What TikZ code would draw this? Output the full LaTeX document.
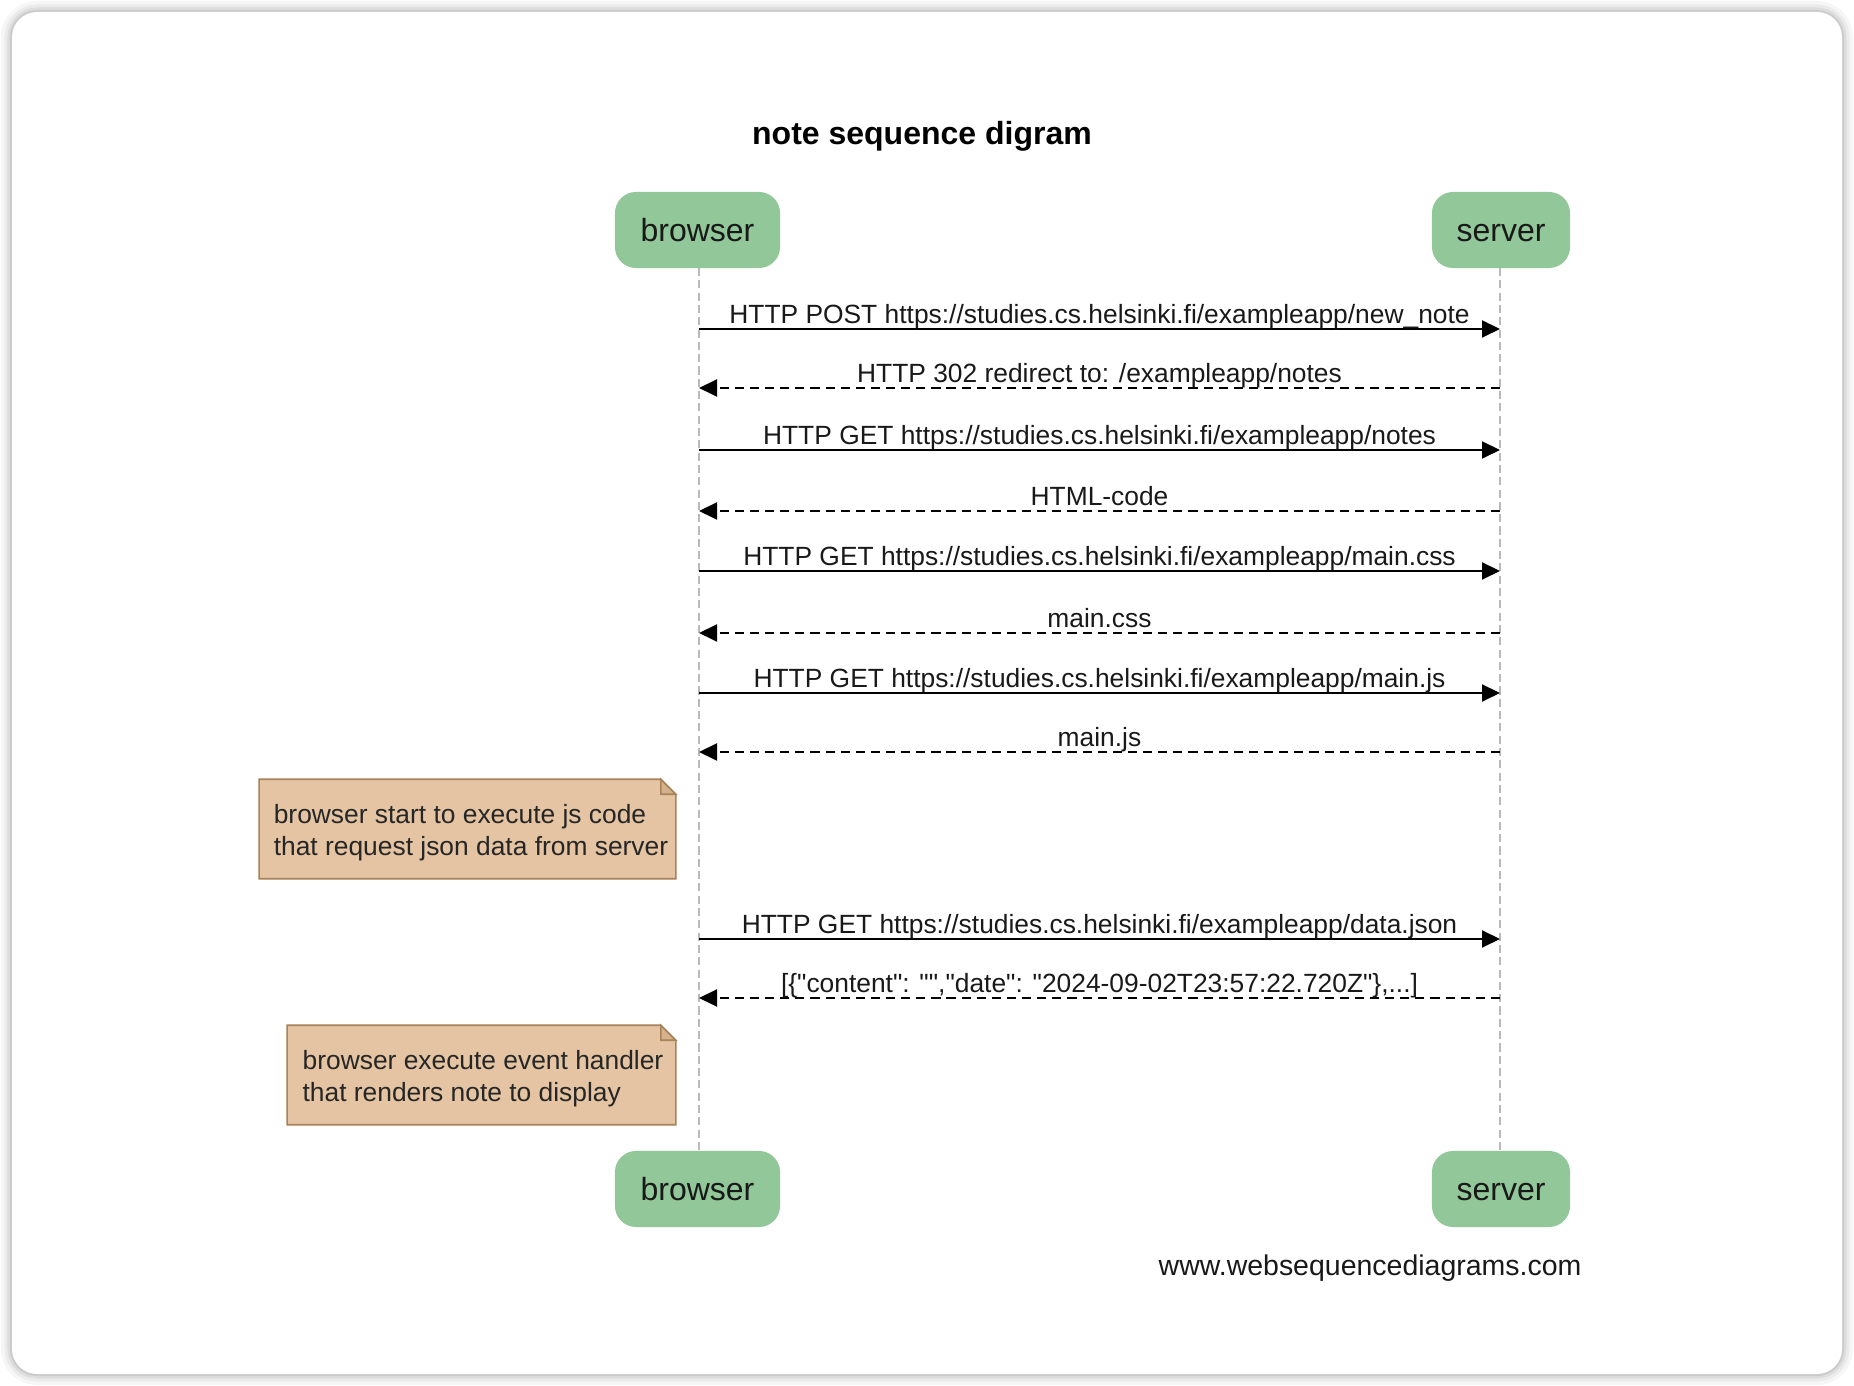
\documentclass[tikz,border=0pt]{standalone}
\usepackage{fontspec}
\setmainfont{Liberation Sans}[Ligatures=TeXOff]
\usetikzlibrary{arrows.meta,backgrounds}
\definecolor{actorgreen}{RGB}{146,199,153}
\definecolor{notefill}{RGB}{228,196,162}
\definecolor{notedraw}{RGB}{168,130,88}
\definecolor{foldfill}{RGB}{214,178,140}
\definecolor{lifegray}{RGB}{185,185,185}
\tikzset{
 actor/.style={fill=actorgreen, rounded corners=0.21cm, minimum height=0.76cm, inner sep=0pt, text height=0.23cm, text depth=0pt, font=\fontsize{9.1}{11}\selectfont, text=black!90},
 msg/.style={line width=0.55pt, -{Triangle[length=0.18cm,width=0.17cm]}},
 reply/.style={msg, dash pattern=on 2.6pt off 1.7pt},
 lbl/.style={anchor=base, yshift=0.055cm, font=\fontsize{7.5}{9}\selectfont, inner sep=0pt, text=black!90},
 lifeline/.style={lifegray, line width=0.4pt, dash pattern=on 2.3pt off 1.2pt},
 notebox/.style={align=left, font=\fontsize{7.5}{9.1}\selectfont, inner sep=0pt, text=black!85, minimum height=0.98cm},
 noteshape/.style={fill=notefill, draw=notedraw, line width=0.45pt},
}
\begin{document}
\begin{tikzpicture}[x=0.01cm,y=-0.01cm]
\useasboundingbox (0,0) rectangle (1854,1386);
\begin{scope}[on background layer]
 \fill[white] (0,0) rectangle (1854,1386);
 \foreach \w/\o in {0.22cm/0.035,0.15cm/0.045,0.09cm/0.06,0.04cm/0.08}
  \draw[black, opacity=\o, line width=\w, rounded corners=0.25cm] (12,12) rectangle (1842,1374);
 \fill[white, rounded corners=0.25cm] (12,12) rectangle (1842,1374);
\end{scope}

\node[anchor=base, font=\bfseries\fontsize{9.1}{11}\selectfont, inner sep=0pt] (title) at (922,144.5) {note sequence digram};

\node[actor, minimum width=1.65cm] (b1) at (697.5,230) {browser};
\node[actor, minimum width=1.38cm] (s1) at (1501,230) {server};
\node[actor, minimum width=1.65cm] (b2) at (697.5,1189) {browser};
\node[actor, minimum width=1.38cm] (s2) at (1501,1189) {server};

\coordinate (bt) at (699,268); \coordinate (bb) at (699,1151);
\coordinate (st) at (1500,268); \coordinate (sb) at (1500,1151);
\draw[lifeline] (bt) -- (bb);
\draw[lifeline] (st) -- (sb);

\foreach \i/\y in {1/329,2/388,3/450,4/511,5/571,6/633,7/693,8/752,9/939,10/998}{
 \coordinate (b\i) at (699,\y);
 \coordinate (s\i) at (1500,\y);
}

\draw[msg] (b1) -- node[lbl] (m1) {HTTP POST https://studies.cs.helsinki.fi/exampleapp/new\_note} (s1);
\draw[reply] (s2) -- node[lbl] (m2) {HTTP 302 redirect to: /exampleapp/notes} (b2);
\draw[msg] (b3) -- node[lbl] (m3) {HTTP GET https://studies.cs.helsinki.fi/exampleapp/notes} (s3);
\draw[reply] (s4) -- node[lbl] (m4) {HTML-code} (b4);
\draw[msg] (b5) -- node[lbl] (m5) {HTTP GET https://studies.cs.helsinki.fi/exampleapp/main.css} (s5);
\draw[reply] (s6) -- node[lbl] (m6) {main.css} (b6);
\draw[msg] (b7) -- node[lbl] (m7) {HTTP GET https://studies.cs.helsinki.fi/exampleapp/main.js} (s7);
\draw[reply] (s8) -- node[lbl] (m8) {main.js} (b8);
\draw[msg] (b9) -- node[lbl] (m9) {HTTP GET https://studies.cs.helsinki.fi/exampleapp/data.json} (s9);
\draw[reply] (s10) -- node[lbl] (m10) {[\{"content": "","date": "2024-09-02T23:57:22.720Z"\},...]} (b10);

\node[notebox, minimum width=4.15cm] (n1) at (471,833)
 {browser start to execute js code\\that request json data from server};
\node[notebox, minimum width=3.87cm] (n2) at (483,1079)
 {browser execute event handler\\that renders note to display};

\begin{scope}[on background layer]
 \foreach \n/\dx in {n1/-0.035cm,n2/-0.015cm}{
  \begin{scope}[every node/.style={}]
  \draw[noteshape] ([shift={(\dx,0.04cm)}]\n.south west) -- ([shift={(\dx,0.04cm)}]\n.north west)
   -- ([shift={(\dx-0.15cm,0.04cm)}]\n.north east)
   -- ([shift={(\dx,-0.11cm)}]\n.north east) -- ([shift={(\dx,0.04cm)}]\n.south east) -- cycle;
  \draw[noteshape, fill=foldfill] ([shift={(\dx-0.15cm,0.04cm)}]\n.north east)
   -- ([shift={(\dx-0.15cm,-0.11cm)}]\n.north east)
   -- ([shift={(\dx,-0.11cm)}]\n.north east) -- cycle;
  \end{scope}
 }
\end{scope}

\node[anchor=base west, font=\fontsize{8.1}{10}\selectfont, inner sep=0pt, text=black!90] (footer) at (1158,1276) {www.websequencediagrams.com};
\end{tikzpicture}
\end{document}
